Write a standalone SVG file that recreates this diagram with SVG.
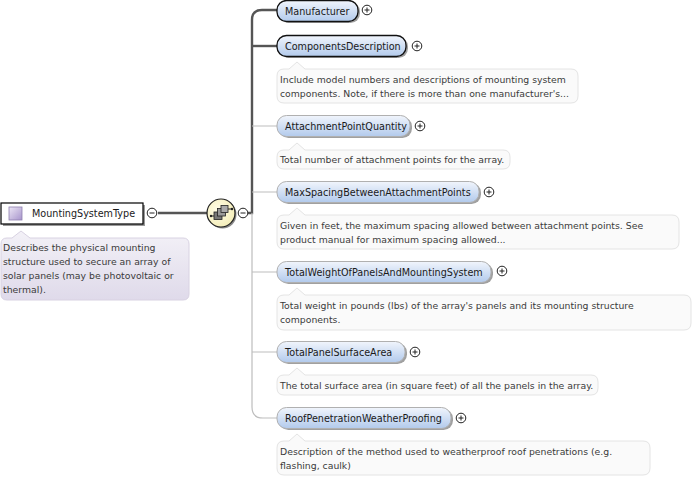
<svg xmlns="http://www.w3.org/2000/svg" width="698" height="479" viewBox="0 0 698 479">
<style>
text{font-family:"DejaVu Sans","Liberation Sans",sans-serif}
.lbl{font-size:9.65px;fill:#1a1a1a}
.nt{font-size:9.3px;fill:#3a3a3a}
.note{fill:#fafafa;stroke:#e4e4e4;stroke-width:1}
.pill{fill:url(#pg);stroke:#b0b0b0;stroke-width:1}
.pilld{fill:url(#pg);stroke:#111;stroke-width:1.3}
.sh{fill:#a0a0a0}
.c{fill:#fff;stroke:#222;stroke-width:1}
.s{stroke:#222;stroke-width:1;fill:none}
.dk{stroke:#555;stroke-width:2.4;fill:none}
.lt{stroke:#bdbdbd;stroke-width:1.2;fill:none}
</style>
<defs>
<linearGradient id="pg" x1="0" y1="0" x2="0" y2="1"><stop offset="0" stop-color="#f1f5fc"/><stop offset="1" stop-color="#b2caec"/></linearGradient>
<linearGradient id="ng" x1="0" y1="0" x2="0" y2="1"><stop offset="0" stop-color="#f3f1f7"/><stop offset="1" stop-color="#dfdaea"/></linearGradient>
<linearGradient id="sq" x1="0" y1="0" x2="1" y2="1"><stop offset="0" stop-color="#ece6f5"/><stop offset="1" stop-color="#a794cc"/></linearGradient>
<radialGradient id="yg" cx=".4" cy=".4" r=".7"><stop offset="0" stop-color="#fffde8"/><stop offset="1" stop-color="#f3ecb4"/></radialGradient>
<g id="plus"><circle class="c" r="4.8"/><path class="s" d="M-2.500 0H2.500M0 -2.500V2.500"/></g>
<g id="minus"><circle class="c" r="4.800"/><path class="s" d="M-2.500 0H2.500"/></g>
</defs>

<g id="connectors">
<path class="dk" d="M158 213H207"/>
<path class="dk" d="M248 213H252V20Q252 10 262 10H277"/>
<path class="dk" d="M252 46H277"/>
<path class="lt" d="M252 213V407Q252 418 263 418H277"/>
<path class="lt" d="M252 126H277M252 192H277M252 272H277M252 352H277"/>
</g>

<g id="MountingSystemType">
<rect x="3" y="205" width="142" height="21" fill="#999"/>
<rect x="1" y="203" width="142" height="21" fill="#fff" stroke="#000" stroke-width="1.2"/>
<rect x="9" y="207" width="13" height="13" fill="url(#sq)" stroke="#8f80b0" stroke-width=".8"/>
<text class="lbl" x="32" y="217">MountingSystemType</text>
<use href="#minus" x="152" y="213"/>
<path d="M21 231 L12 238 H7 Q1 238 1 244 V294 Q1 300 7 300 H183 Q189 300 189 294 V244 Q189 238 183 238 H30 Z" fill="url(#ng)" stroke="#d8d2e2"/>
<text class="nt" x="3" y="251">Describes the physical mounting</text>
<text class="nt" x="3" y="265">structure used to secure an array of</text>
<text class="nt" x="3" y="279">solar panels (may be photovoltaic or</text>
<text class="nt" x="3" y="293">thermal).</text>
</g>

<g id="sequence">
<circle cx="222.500" cy="214.500" r="14" fill="#8a8a8a"/>
<circle cx="221" cy="213" r="14" fill="url(#yg)" stroke="#222" stroke-width="1.2"/>
<path d="M210.500 216H214M228 209H232" stroke="#222" stroke-width="1.2"/>
<circle cx="211" cy="216" r="1.2" fill="#222"/><circle cx="232" cy="209" r="1.2" fill="#222"/>
<rect x="214" y="212" width="8" height="7.500" fill="#777" stroke="#222" stroke-width=".8"/>
<rect x="217.500" y="208.500" width="8" height="7.500" fill="#999" stroke="#222" stroke-width=".8"/>
<rect x="221" y="205.500" width="7" height="7" fill="#aaa" stroke="#222" stroke-width=".8"/>
<use href="#minus" x="243" y="213"/>
</g>

<g id="Manufacturer">
<rect class="sh" x="279" y="2" width="81" height="21" rx="9.500"/>
<rect class="pilld" x="277" y="0.500" width="81" height="21" rx="9.500"/>
<text class="lbl" x="285" y="14.500">Manufacturer</text>
<use href="#plus" x="367" y="10"/>
</g>

<g id="ComponentsDescription">
<rect class="sh" x="279" y="37" width="129" height="21" rx="9.500"/>
<rect class="pilld" x="277" y="35.500" width="129" height="21" rx="9.500"/>
<text class="lbl" x="285" y="49.500">ComponentsDescription</text>
<use href="#plus" x="417" y="46"/>
<path class="note" d="M297 62 L289 69 H284 Q277 69 277 76 V96 Q277 103 284 103 H571 Q578 103 578 96 V76 Q578 69 571 69 H305 Z"/>
<text class="nt" x="280" y="83">Include model numbers and descriptions of mounting system</text>
<text class="nt" x="280" y="97">components. Note, if there is more than one manufacturer's...</text>
</g>

<g id="AttachmentPointQuantity">
<rect class="sh" x="279" y="117" width="133" height="21" rx="9.500"/>
<rect class="pill" x="277" y="115.500" width="133" height="21" rx="9.500"/>
<text class="lbl" x="285" y="130">AttachmentPointQuantity</text>
<use href="#plus" x="420" y="126"/>
<path class="note" d="M297 143 L289 150 H284 Q277 150 277 157 V162 Q277 169 284 169 H503 Q510 169 510 162 V157 Q510 150 503 150 H305 Z"/>
<text class="nt" x="280" y="163">Total number of attachment points for the array.</text>
</g>

<g id="MaxSpacingBetweenAttachmentPoints">
<rect class="sh" x="279" y="183" width="202" height="21" rx="9.500"/>
<rect class="pill" x="277" y="181.500" width="202" height="21" rx="9.500"/>
<text class="lbl" x="285" y="196">MaxSpacingBetweenAttachmentPoints</text>
<use href="#plus" x="489" y="192"/>
<path class="note" d="M297 208 L289 215 H284 Q277 215 277 222 V242 Q277 249 284 249 H672 Q679 249 679 242 V222 Q679 215 672 215 H305 Z"/>
<text class="nt" x="280" y="229">Given in feet, the maximum spacing allowed between attachment points. See</text>
<text class="nt" x="280" y="243">product manual for maximum spacing allowed...</text>
</g>

<g id="TotalWeightOfPanelsAndMountingSystem">
<rect class="sh" x="279" y="263" width="214" height="21" rx="9.500"/>
<rect class="pill" x="277" y="261.500" width="214" height="21" rx="9.500"/>
<text class="lbl" x="285" y="276">TotalWeightOfPanelsAndMountingSystem</text>
<use href="#plus" x="502" y="271"/>
<path class="note" d="M297 288 L289 295 H284 Q277 295 277 302 V323 Q277 330 284 330 H684 Q691 330 691 323 V302 Q691 295 684 295 H305 Z"/>
<text class="nt" x="280" y="309">Total weight in pounds (lbs) of the array's panels and its mounting structure</text>
<text class="nt" x="280" y="323">components.</text>
</g>

<g id="TotalPanelSurfaceArea">
<rect class="sh" x="279" y="343" width="128" height="21" rx="9.500"/>
<rect class="pill" x="277" y="341.500" width="128" height="21" rx="9.500"/>
<text class="lbl" x="285" y="356">TotalPanelSurfaceArea</text>
<use href="#plus" x="415" y="352"/>
<path class="note" d="M297 368 L289 375 H284 Q277 375 277 382 V388 Q277 395 284 395 H591 Q598 395 598 388 V382 Q598 375 591 375 H305 Z"/>
<text class="nt" x="280" y="389">The total surface area (in square feet) of all the panels in the array.</text>
</g>

<g id="RoofPenetrationWeatherProofing">
<rect class="sh" x="279" y="409" width="174" height="21" rx="9.500"/>
<rect class="pill" x="277" y="407.500" width="174" height="21" rx="9.500"/>
<text class="lbl" x="285" y="422">RoofPenetrationWeatherProofing</text>
<use href="#plus" x="461" y="418"/>
<path class="note" d="M297 434 L289 441 H284 Q277 441 277 448 V468 Q277 475 284 475 H643 Q650 475 650 468 V448 Q650 441 643 441 H305 Z"/>
<text class="nt" x="280" y="455">Description of the method used to weatherproof roof penetrations (e.g.</text>
<text class="nt" x="280" y="469">flashing, caulk)</text>
</g>
</svg>
